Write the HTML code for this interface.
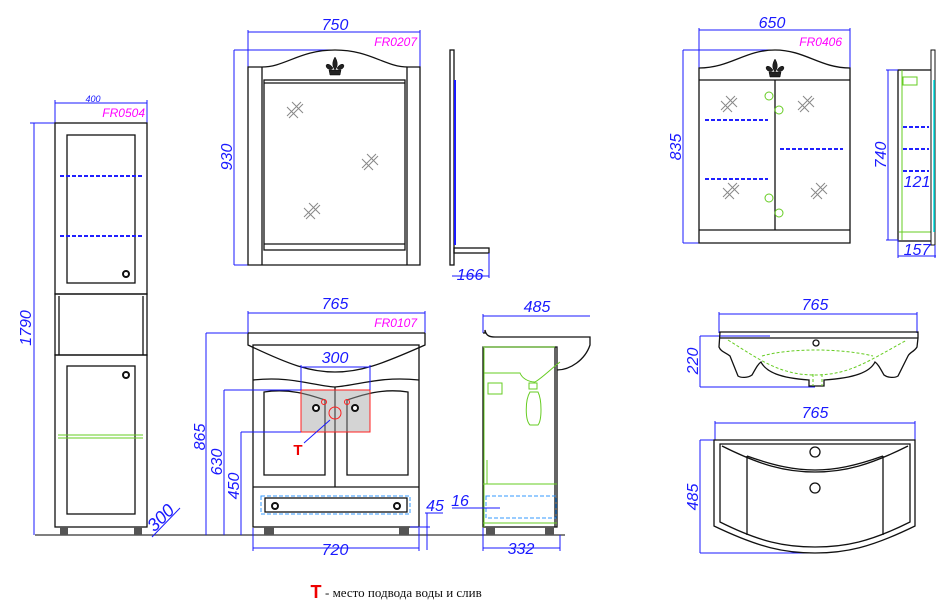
<!DOCTYPE html>
<html><head><meta charset="utf-8"><style>
html,body{margin:0;padding:0;background:#fff;width:950px;height:604px;overflow:hidden}
svg{display:block}
.d{font-family:"Liberation Sans",sans-serif;font-style:italic;font-size:16px;fill:#1a1aff}
.m{font-family:"Liberation Sans",sans-serif;font-style:italic;font-size:12px;fill:#ff00ff}
.b{stroke:#1a1aff;stroke-width:1;fill:none}
.k{stroke:#111;stroke-width:1.3;fill:none}
.g{stroke:#66cc22;stroke-width:1;fill:none}
.bd{stroke:#2020ff;stroke-width:2;stroke-dasharray:4 2;fill:none}
.st{stroke:#888;stroke-width:1;fill:none}
</style></head><body>
<svg width="950" height="604" viewBox="0 0 950 604" xmlns="http://www.w3.org/2000/svg">
<defs>
<g id="star"><path class="st" d="M-8,6 L6,-8 M-6,8 L8,-6 M-8,-3 L3,8 M-3,-8 L8,3"/></g>
<g id="flr"><path d="M0,-9 C-3,-4 -3,0 0,4 C3,0 3,-4 0,-9Z M-2,2 C-6,-4 -11,-2 -8,2 C-6,4 -3,4 -2,2Z M2,2 C6,-4 11,-2 8,2 C6,4 3,4 2,2Z M-6,4 L6,4 L5,9 L-5,9Z" fill="#222" stroke="#000" stroke-width="0.5"/></g>
</defs>
<!-- ground -->
<line x1="35" y1="535" x2="565" y2="535" stroke="#333" stroke-width="1.2"/>
<!-- TALL CABINET -->
<line class="b" x1="55" y1="103" x2="147" y2="103"/><line class="b" x1="55" y1="100" x2="55" y2="123"/><line class="b" x1="147" y1="100" x2="147" y2="123"/>
<text x="93" y="102" class="d" style="font-size:9px" text-anchor="middle">400</text>
<text x="145" y="117" class="m" text-anchor="end">FR0504</text>
<line class="b" x1="34" y1="123" x2="34" y2="535"/><line class="b" x1="30" y1="123" x2="55" y2="123"/>
<text class="d" transform="translate(31,328) rotate(-90)" text-anchor="middle">1790</text>
<rect class="k" x="55" y="123" width="92" height="171"/>
<rect class="k" x="67" y="135" width="68" height="148"/>
<line class="bd" x1="60" y1="176" x2="143" y2="176"/><line class="bd" x1="60" y1="236" x2="143" y2="236"/>
<rect class="k" x="55" y="294" width="92" height="61"/><line class="k" x1="59" y1="296" x2="59" y2="355"/><line class="k" x1="143" y1="296" x2="143" y2="355"/>
<rect class="k" x="55" y="355" width="92" height="172"/>
<rect class="k" x="67" y="366" width="68" height="148"/>
<line class="g" x1="58" y1="435" x2="143" y2="435"/><line class="g" x1="58" y1="438" x2="143" y2="438"/>
<circle cx="126" cy="274" r="3" fill="#fff" stroke="#111" stroke-width="2"/><circle cx="126" cy="375" r="3" fill="#fff" stroke="#111" stroke-width="2"/>
<rect x="60" y="527" width="8" height="8" fill="#555"/><rect x="134" y="527" width="8" height="8" fill="#555"/>
<line class="b" x1="152" y1="537" x2="180" y2="508"/>
<text class="d" transform="translate(165,522) rotate(-45)" text-anchor="middle" style="font-size:18px">300</text>
<!-- MIRROR -->
<line class="b" x1="248" y1="32" x2="420" y2="32"/><line class="b" x1="248" y1="30" x2="248" y2="67"/><line class="b" x1="420" y1="30" x2="420" y2="67"/>
<text x="335" y="30" class="d" text-anchor="middle">750</text>
<text x="417" y="46" class="m" text-anchor="end">FR0207</text>
<line class="b" x1="234" y1="50" x2="234" y2="265"/><line class="b" x1="234" y1="50" x2="335" y2="50"/><line class="b" x1="234" y1="265" x2="248" y2="265"/>
<text class="d" transform="translate(232,157) rotate(-90)" text-anchor="middle">930</text>
<path class="k" d="M248,67 L262,67 C285,67 300,50 335,50 C370,50 385,67 408,67 L420,67 L420,265 L248,265Z"/>
<line class="k" x1="262" y1="67" x2="262" y2="265" stroke-width="2.5"/><line class="k" x1="407" y1="67" x2="407" y2="265" stroke-width="2.5"/>
<rect class="k" x="264" y="80" width="141" height="170"/><line class="k" x1="264" y1="244" x2="405" y2="244"/><line class="k" x1="264" y1="83" x2="405" y2="83"/>
<use href="#flr" x="335" y="66"/>
<use href="#star" x="295" y="110"/><use href="#star" x="370" y="162"/><use href="#star" x="312" y="211"/>
<rect class="k" x="450" y="50" width="4" height="215"/><line x1="455" y1="80" x2="455" y2="245" stroke="#1a1aff" stroke-width="2"/>
<rect class="k" x="454" y="248" width="35" height="5"/>
<line class="b" x1="452" y1="276" x2="489" y2="276"/><line class="b" x1="489" y1="253" x2="489" y2="278"/>
<text x="470" y="280" class="d" text-anchor="middle">166</text>
<!-- VANITY FRONT -->
<line class="b" x1="248" y1="313" x2="425" y2="313"/><line class="b" x1="248" y1="311" x2="248" y2="333"/><line class="b" x1="425" y1="311" x2="425" y2="333"/>
<text x="335" y="309" class="d" text-anchor="middle">765</text>
<text x="417" y="327" class="m" text-anchor="end">FR0107</text>
<line class="k" x1="248" y1="333" x2="425" y2="333"/>
<path class="k" d="M248,333 L248,345 C290,365 310,372 335,372 C360,372 380,365 425,345 L425,333"/>
<rect class="k" x="253" y="345" width="166" height="182"/>
<path class="k" d="M253,380 C290,376 310,385 335,387 C360,385 380,376 419,380"/>
<path class="k" d="M264,475 L264,392 C290,388 310,395 325,400 L325,475Z"/>
<path class="k" d="M408,475 L408,392 C382,388 362,395 347,400 L347,475Z"/>
<line class="k" x1="335" y1="387" x2="335" y2="487" stroke-width="2"/>
<line class="k" x1="253" y1="487" x2="419" y2="487"/>
<rect x="301" y="390" width="69" height="42" fill="rgba(160,160,160,0.45)" stroke="#ff2020" stroke-width="1"/>
<circle cx="324" cy="402" r="2.5" fill="none" stroke="#ff2020"/><circle cx="347" cy="402" r="2.5" fill="none" stroke="#ff2020"/>
<circle cx="335" cy="413" r="6" fill="none" stroke="#ff2020"/>
<circle cx="316" cy="408" r="3" fill="#fff" stroke="#111" stroke-width="2"/><circle cx="355" cy="408" r="3" fill="#fff" stroke="#111" stroke-width="2"/>
<line class="b" x1="330" y1="420" x2="304" y2="443"/>
<text x="298" y="455" fill="#ee0000" font-family="Liberation Sans,sans-serif" font-weight="bold" font-size="15" text-anchor="middle">T</text>
<rect x="261" y="496" width="149" height="18" fill="none" stroke="#3399ff" stroke-dasharray="4 2"/>
<rect class="k" x="265" y="498" width="142" height="14"/>
<circle cx="275" cy="506" r="3" fill="#fff" stroke="#111" stroke-width="2"/><circle cx="397" cy="506" r="3" fill="#fff" stroke="#111" stroke-width="2"/>
<rect x="264" y="527" width="10" height="8" fill="#555"/><rect x="399" y="527" width="10" height="8" fill="#555"/>
<line class="b" x1="301" y1="367" x2="370" y2="367"/><line class="b" x1="301" y1="365" x2="301" y2="390"/><line class="b" x1="370" y1="365" x2="370" y2="390"/>
<text x="335" y="363" class="d" text-anchor="middle">300</text>
<line class="b" x1="206" y1="333" x2="206" y2="535"/><line class="b" x1="206" y1="333" x2="248" y2="333"/>
<text class="d" transform="translate(205,437) rotate(-90)" text-anchor="middle">865</text>
<line class="b" x1="224" y1="390" x2="224" y2="535"/><line class="b" x1="224" y1="390" x2="301" y2="390"/>
<text class="d" transform="translate(222,462) rotate(-90)" text-anchor="middle">630</text>
<line class="b" x1="241" y1="432" x2="241" y2="535"/><line class="b" x1="241" y1="432" x2="301" y2="432"/>
<text class="d" transform="translate(239,486) rotate(-90)" text-anchor="middle">450</text>
<line class="b" x1="253" y1="548" x2="419" y2="548"/><line class="b" x1="253" y1="528" x2="253" y2="551"/><line class="b" x1="419" y1="528" x2="419" y2="551"/>
<text x="335" y="555" class="d" text-anchor="middle">720</text>
<line class="b" x1="427" y1="513" x2="427" y2="550"/><line class="b" x1="425" y1="513" x2="443" y2="513"/><line class="b" x1="410" y1="527" x2="430" y2="527"/>
<text x="435" y="511" class="d" text-anchor="middle">45</text>
<!-- VANITY SIDE -->
<line class="b" x1="483" y1="316" x2="590" y2="316"/><line class="b" x1="483" y1="314" x2="483" y2="333"/>
<text x="537" y="312" class="d" text-anchor="middle">485</text>
<path class="k" d="M483,333 L485,333 L485,330 C486,336 490,337 495,337 L590,337 L590,345 C585,360 570,370 557,370"/>
<rect class="k" x="483" y="347" width="74" height="180"/>
<line class="k" x1="555" y1="347" x2="555" y2="527"/>
<path class="g" d="M483,347 L555,347 M484,348 L484,527 M483,484 L557,484 M483,523 L557,523 M487,460 L487,484"/>
<path class="g" d="M484,373 L520,373 C522,378 528,382 535,382 C542,378 552,368 560,362"/>
<rect x="529" y="383" width="8" height="6" class="g"/><path class="g" d="M530,392 C525,400 525,420 530,425 L538,425 C542,420 542,400 538,392Z"/>
<rect x="488" y="383" width="14" height="11" class="g"/>
<rect x="486" y="496" width="70" height="22" fill="none" stroke="#3399ff" stroke-dasharray="4 2"/>
<line class="b" x1="452" y1="508" x2="500" y2="508"/>
<text x="460" y="506" class="d" text-anchor="middle">16</text>
<rect x="486" y="527" width="9" height="8" fill="#555"/><rect x="545" y="527" width="9" height="8" fill="#555"/>
<line class="b" x1="483" y1="548" x2="560" y2="548"/><line class="b" x1="483" y1="528" x2="483" y2="551"/><line class="b" x1="560" y1="535" x2="560" y2="551"/>
<text x="521" y="554" class="d" text-anchor="middle">332</text>
<!-- MIRROR CABINET -->
<line class="b" x1="699" y1="30" x2="850" y2="30"/><line class="b" x1="699" y1="28" x2="699" y2="68"/><line class="b" x1="850" y1="28" x2="850" y2="68"/>
<text x="772" y="28" class="d" text-anchor="middle">650</text>
<text x="842" y="46" class="m" text-anchor="end">FR0406</text>
<line class="b" x1="683" y1="50" x2="683" y2="243"/><line class="b" x1="683" y1="50" x2="775" y2="50"/><line class="b" x1="683" y1="243" x2="699" y2="243"/>
<text class="d" transform="translate(681,147) rotate(-90)" text-anchor="middle">835</text>
<path class="k" d="M699,68 C730,68 745,50 775,50 C805,50 820,68 850,68 L850,243 L699,243Z"/>
<line class="k" x1="699" y1="80" x2="850" y2="80" stroke-width="2"/><line class="k" x1="699" y1="230" x2="850" y2="230" stroke-width="2"/>
<line class="k" x1="775" y1="80" x2="775" y2="230" stroke-width="2"/>
<use href="#flr" x="775" y="68"/>
<line class="bd" x1="705" y1="120" x2="768" y2="120"/><line class="bd" x1="705" y1="179" x2="768" y2="179"/><line class="bd" x1="780" y1="149" x2="843" y2="149"/>
<circle cx="769" cy="96" r="4" class="g" stroke-width="1.5"/><circle cx="779" cy="110" r="4" class="g" stroke-width="1.5"/><circle cx="769" cy="198" r="4" class="g" stroke-width="1.5"/><circle cx="779" cy="213" r="4" class="g" stroke-width="1.5"/>
<use href="#star" x="729" y="104"/><use href="#star" x="806" y="104"/><use href="#star" x="731" y="191"/><use href="#star" x="819" y="191"/>
<rect class="k" x="898" y="70" width="34" height="171"/><line class="g" x1="902" y1="70" x2="902" y2="240" stroke-width="2"/><line class="g" x1="899" y1="232" x2="931" y2="232" stroke-width="2"/>
<rect x="931" y="50" width="4" height="195" fill="#fff" stroke="#111"/><line x1="934" y1="80" x2="934" y2="232" stroke="#00e0e0" stroke-width="1.5"/>
<rect class="g" x="903" y="77" width="14" height="8"/>
<line class="bd" x1="903" y1="127" x2="929" y2="127"/><line class="bd" x1="903" y1="149" x2="929" y2="149"/><line class="bd" x1="903" y1="171" x2="929" y2="171"/>
<line class="b" x1="888" y1="70" x2="888" y2="240"/><line class="b" x1="886" y1="70" x2="898" y2="70"/><line class="b" x1="886" y1="240" x2="898" y2="240"/>
<text class="d" transform="translate(886,155) rotate(-90)" text-anchor="middle">740</text>
<text x="917" y="187" class="d" text-anchor="middle">121</text>
<line class="b" x1="898" y1="256" x2="936" y2="256"/><line class="b" x1="898" y1="240" x2="898" y2="258"/><line class="b" x1="935" y1="245" x2="935" y2="258"/>
<text x="917" y="255" class="d" text-anchor="middle">157</text>
<!-- SINK SIDE -->
<line class="b" x1="719" y1="314" x2="917" y2="314"/><line class="b" x1="719" y1="312" x2="719" y2="333"/><line class="b" x1="917" y1="312" x2="917" y2="333"/>
<text x="815" y="310" class="d" text-anchor="middle">765</text>
<line class="b" x1="700" y1="336" x2="700" y2="387"/><line class="b" x1="700" y1="336" x2="770" y2="336"/><line class="b" x1="700" y1="387" x2="815" y2="387"/>
<text class="d" transform="translate(698,361) rotate(-90)" text-anchor="middle">220</text>
<path class="k" d="M720,332 L918,332 L918,338 L917,347 C914,352 910,352 908,356 L898,376 C895,378 888,378 884,375 C880,368 878,364 875,362 C870,372 855,378 824,380 L824,386 L809,386 L809,380 C780,378 766,372 761,362 C758,364 756,368 752,375 C748,378 741,378 738,376 L730,356 C725,352 721,352 719,347Z"/>
<path class="k" d="M720,338 L918,338"/>
<path d="M728,340 C760,360 780,375 815,375 C850,375 870,360 907,340 M762,356 C790,348 840,348 873,356 M813,374 L813,386 M822,374 L822,386" fill="none" stroke="#66cc22" stroke-dasharray="3 2"/>
<circle cx="816" cy="343" r="3" class="k"/>
<!-- SINK PLAN -->
<line class="b" x1="715" y1="423" x2="915" y2="423"/><line class="b" x1="715" y1="421" x2="715" y2="440"/><line class="b" x1="915" y1="421" x2="915" y2="440"/>
<text x="815" y="418" class="d" text-anchor="middle">765</text>
<line class="b" x1="700" y1="440" x2="700" y2="553"/><line class="b" x1="700" y1="440" x2="714" y2="440"/><line class="b" x1="700" y1="553" x2="815" y2="553"/>
<text class="d" transform="translate(698,497) rotate(-90)" text-anchor="middle">485</text>
<path class="k" d="M714,440 L915,440 L915,526 C870,548 845,553 815,553 C785,553 760,548 714,526Z"/>
<path class="k" d="M720,444 L910,444 L910,522 C870,542 845,547 815,547 C785,547 760,542 720,522Z"/>
<path class="k" d="M722,446 C760,465 785,472 815,472 C845,472 870,465 908,446"/>
<path class="k" d="M747,456 L747,535 M883,456 L883,535 M747,456 C775,466 795,470 815,470 C835,470 855,466 883,456"/>
<circle cx="815" cy="452" r="5" class="k"/><circle cx="815" cy="488" r="5" class="k"/>
<!-- footer -->
<text x="316" y="598" fill="#ee0000" font-family="Liberation Sans,sans-serif" font-weight="bold" font-size="18" text-anchor="middle">T</text>
<text x="325" y="597" font-family="Liberation Serif,serif" font-size="13" fill="#111">- место подвода воды и слив</text>
</svg>
</body></html>
